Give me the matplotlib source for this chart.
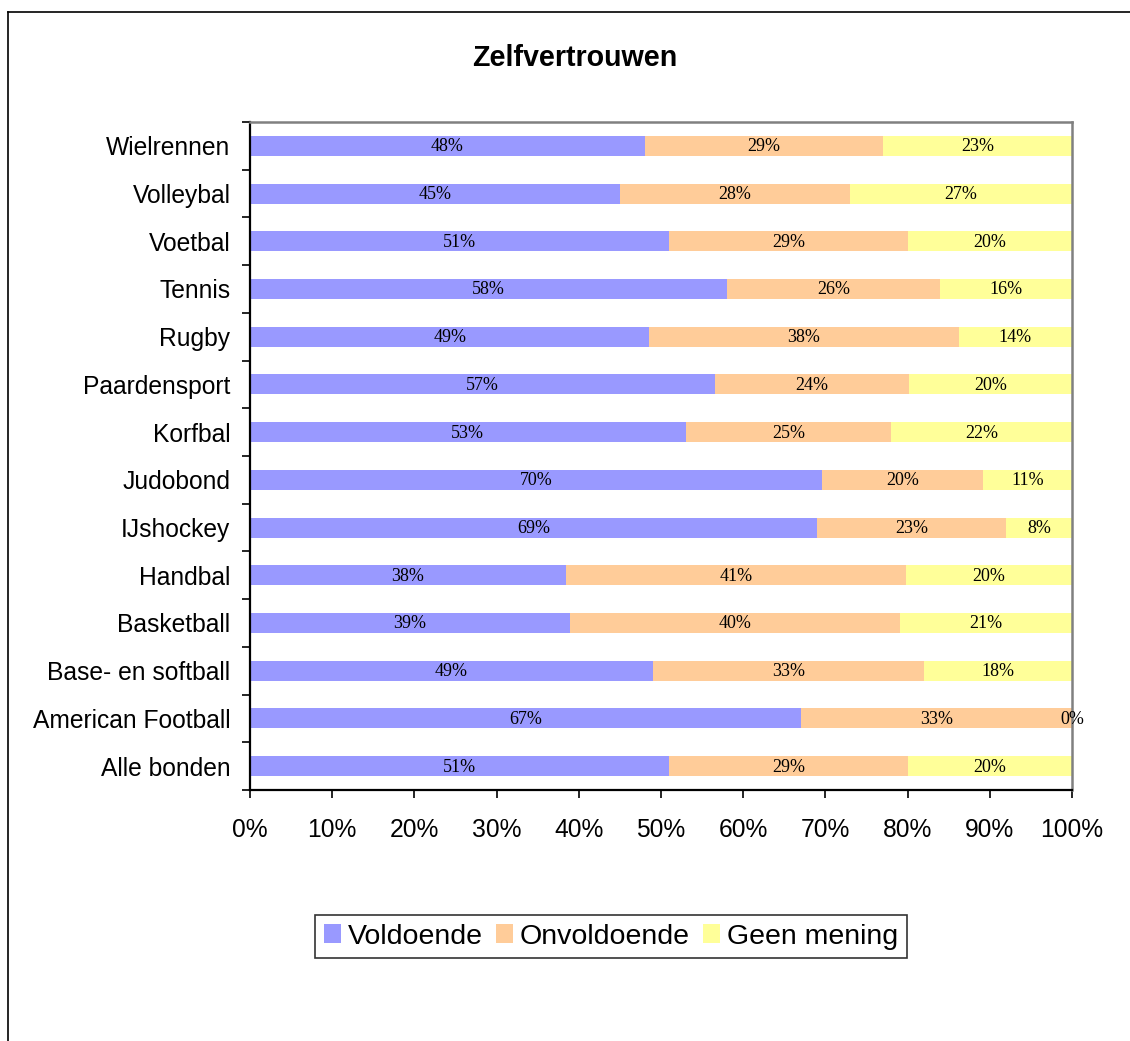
import matplotlib
matplotlib.use("Agg")
import matplotlib.pyplot as plt
from matplotlib.lines import Line2D
import numpy as np

categories = ["Wielrennen", "Volleybal", "Voetbal", "Tennis", "Rugby", "Paardensport",
              "Korfbal", "Judobond", "IJshockey", "Handbal", "Basketball",
              "Base- en softball", "American Football", "Alle bonden"]
voldoende = [48, 45, 51, 58, 48.6, 56.6, 53, 69.6, 69, 38.4, 38.9, 49, 67, 51]
onvoldoende = [29, 28, 29, 26, 37.6, 23.6, 25, 19.6, 23, 41.4, 40.2, 33, 33, 29]
geen_mening = [23, 27, 20, 16, 13.8, 19.8, 22, 10.8, 8, 20.2, 20.9, 18, 0, 20]
series_names = ["Voldoende", "Onvoldoende", "Geen mening"]
colors = ["#9999FF", "#FFCC99", "#FFFF99"]
x_ticks = [0, 10, 20, 30, 40, 50, 60, 70, 80, 90, 100]

W, H = 1130, 1041
fig = plt.figure(figsize=(W / 100, H / 100), dpi=100)
ax = fig.add_axes([250 / W, 1 - 790 / H, (1072 - 250) / W, (790 - 122) / H])

y = np.arange(len(categories))
left = np.zeros(len(categories))
for vals, name, col in zip([voldoende, onvoldoende, geen_mening], series_names, colors):
    vals = np.array(vals, dtype=float)
    ax.barh(y, vals, left=left, height=0.42, color=col, label=name, edgecolor="none")
    for yi, l, v in zip(y, left, vals):
        ax.text(l + v / 2, yi + 0.02, f"{v:.0f}%", ha="center", va="center",
                fontsize=13, family="Liberation Serif", color="black")
    left = left + vals

ax.set_ylim(len(categories) - 0.5, -0.5)
ax.set_xlim(0, 100)
ax.set_yticks(y)
ax.set_yticklabels(categories, family="Liberation Sans", fontsize=17.7)
ax.set_yticks(np.arange(-0.5, len(categories), 1.0), minor=True)
ax.tick_params(axis="y", which="major", length=0, pad=14)
ax.tick_params(axis="y", which="minor", length=6, width=1.2, direction="out", color="black")
ax.set_xticks(x_ticks)
ax.set_xticklabels([f"{t}%" for t in x_ticks], family="Liberation Sans", fontsize=17.7)
ax.tick_params(axis="x", which="major", length=6, width=1.2, direction="out", pad=14.5)

for s in ["left", "bottom"]:
    ax.spines[s].set_color("black")
    ax.spines[s].set_linewidth(1.6)
for s in ["top", "right"]:
    ax.spines[s].set_color("#808080")
    ax.spines[s].set_linewidth(1.8)

fig.text(574.5 / W, 1 - 57.5 / H, "Zelfvertrouwen", ha="center", va="center",
         fontsize=20.6, fontweight="bold", family="Liberation Sans")

leg = fig.legend(loc="center", bbox_to_anchor=(611 / W, 1 - 936.5 / H), ncol=3,
                 prop={"family": "Liberation Sans", "size": 20.5},
                 frameon=True, fancybox=False, handlelength=0.6, handleheight=0.6,
                 handletextpad=0.25, columnspacing=0.45, borderpad=0.3,
                 borderaxespad=0)
leg.get_frame().set_edgecolor("black")
leg.get_frame().set_linewidth(1.2)

fig.add_artist(Line2D([8 / W, 8 / W], [0, 1 - 12 / H], color="black", lw=1.2))
fig.add_artist(Line2D([8 / W, 1], [1 - 12 / H, 1 - 12 / H], color="black", lw=1.2))

fig.savefig("out.png", dpi=100)
